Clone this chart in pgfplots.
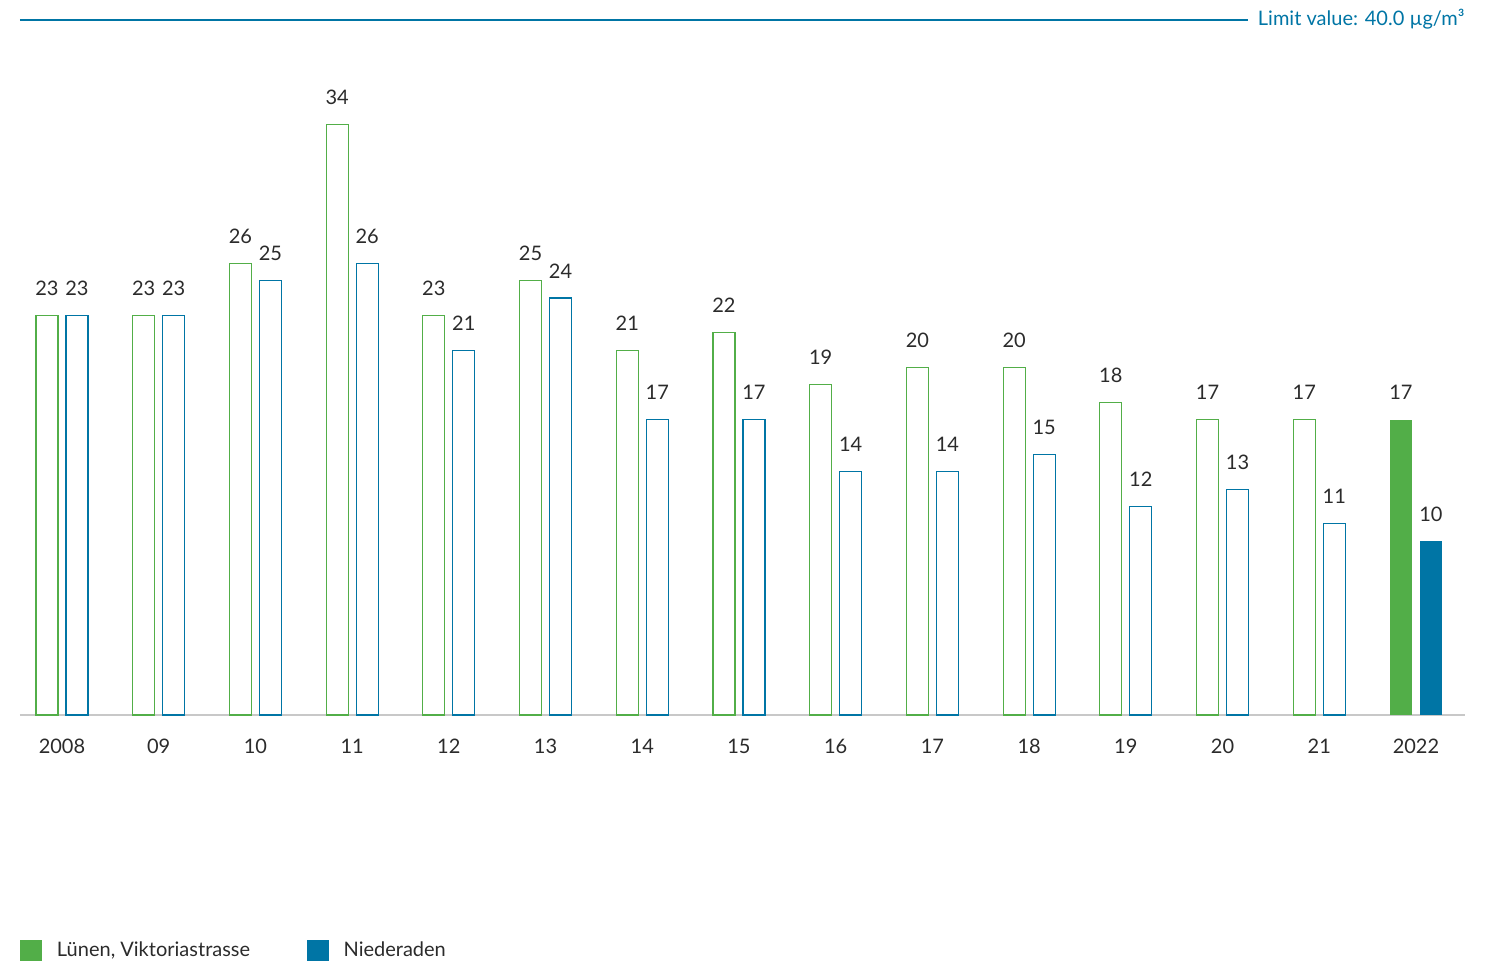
\documentclass[border=0pt]{standalone}
\usepackage{pgfplots}
\pgfplotsset{compat=1.18}
\usepackage{fontspec}
\setmainfont{Lato}
\definecolor{lgreen}{HTML}{52AE48}
\definecolor{lblue}{HTML}{0075A5}
\definecolor{txt}{HTML}{2B2B2B}
\definecolor{base}{HTML}{C8C8C8}
\begin{document}
\begin{tikzpicture}[font=\fontsize{8}{9.6}\selectfont, text=txt]
\useasboundingbox (-8pt,-98pt) rectangle (590pt,286pt);
\begin{axis}[
  at={(0pt,0pt)}, anchor=south west,
  scale only axis, width=578pt, height=278pt,
  xmin=-0.434, xmax=14.507, ymin=0, ymax=40,
  axis x line*=bottom, axis y line=none,
  x axis line style={base, line width=0.8pt},
  xtick={0,...,14},
  xticklabels={2008,09,10,11,12,13,14,15,16,17,18,19,20,21,2022},
  major tick length=0pt,
  xticklabel style={anchor=base, yshift=-15.2pt, text=txt},
  ybar, bar width=8.8pt,
  clip=false,
  /pgf/number format/assume math mode=true,
  nodes near coords,
  every node near coord/.append style={anchor=base, yshift=8pt, text=txt, inner sep=0pt,
     font=\fontsize{8}{9.6}\selectfont},
  legend style={at={(rel axis cs:0,0)}, anchor=west, yshift=-94.4pt, draw=none, fill=none,
     inner sep=0pt, outer sep=0pt, legend columns=2,
     /tikz/every odd column/.append style={column sep=6pt},
     /tikz/every even column/.append style={column sep=22.6pt},
     nodes={inner sep=0pt, text=txt, font=\fontsize{8}{9.6}\selectfont}},
  legend image code/.code={\fill[#1] (0pt,-4.4pt) rectangle (8.8pt,4.4pt);},
]
% filled 2022 bars (used for legend)
\addplot[fill=lgreen, draw=none, bar shift=-6pt] coordinates {(14,17)};
\addlegendentry{Lünen, Viktoriastrasse}
\addplot[fill=lblue, draw=none, bar shift=6pt] coordinates {(14,10)};
\addlegendentry{Niederaden}
% outlined bars 2008-2021
\addplot[fill=white, draw=lgreen, line width=0.45pt, bar shift=-6pt, forget plot] coordinates {
(0,23) (1,23) (2,26) (3,34) (4,23) (5,25) (6,21) (7,22) (8,19) (9,20) (10,20) (11,18) (12,17) (13,17)};
\addplot[fill=white, draw=lblue, line width=0.45pt, bar shift=6pt, forget plot] coordinates {
(0,23) (1,23) (2,25) (3,26) (4,21) (5,24) (6,17) (7,17) (8,14) (9,14) (10,15) (11,12) (12,13) (13,11)};
% limit line and label
\node[anchor=east, inner sep=0pt, text=lblue, yshift=0.4pt] (lim) at (rel axis cs:1,1) {Limit value: 40.0 µg/m³};
\draw[lblue, line width=0.8pt] (rel axis cs:0,1) -- ([xshift=-3.6pt]lim.west |- {rel axis cs:0,1});
\end{axis}
\end{tikzpicture}
\end{document}
